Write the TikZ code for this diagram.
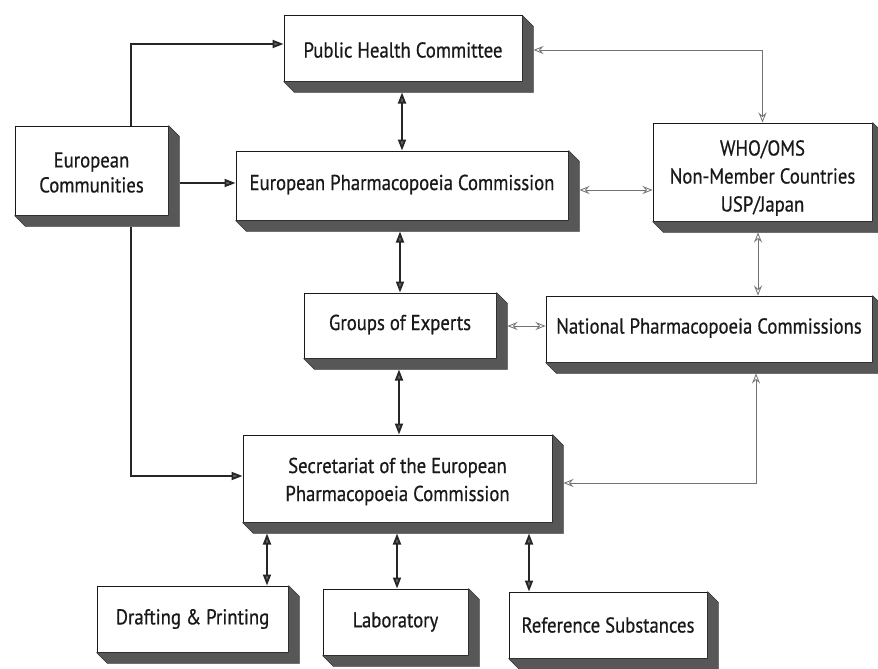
\documentclass[tikz,border=0pt]{standalone}
\usepackage{fontspec}
\setmainfont{PT Sans}[FakeStretch=0.87,FakeBold=0.6]
\usetikzlibrary{arrows.meta,calc}
\newcommand\boxshadow[1]{\fill[shadowc] (#1.north east) -- ++(11,11) -- ($(#1.south east)+(11,11)$) -- ($(#1.south west)+(11,11)$) -- (#1.south west) -- (#1.south east) -- cycle;}
\begin{document}
\begin{tikzpicture}[x=1pt,y=-1pt,
  box/.style={draw=black!90, line width=1pt, fill=white, inner sep=0pt},
  lbl/.style={align=center, font=\fontsize{21.5}{28}\selectfont, inner sep=0pt, text=black!90},
  shadowc/.style={fill=black!66, draw=black!80, line width=0.4pt, line join=round},
  strong/.style={line width=1.8pt, draw=black!85, {Triangle[length=11pt,width=8pt,fill=black!60]}-{Triangle[length=11pt,width=8pt,fill=black!60]}},
  strongone/.style={line width=1.8pt, draw=black!85, -{Triangle[length=11pt,width=8pt,fill=black!60]}},
  weak/.style={line width=0.8pt, draw=black!55, {Stealth[open,length=10pt,width=8pt,inset=3.5pt]}-{Stealth[open,length=10pt,width=8pt,inset=3.5pt]}}]
\useasboundingbox (0,0) rectangle (878,669);
\fill[white] (0,0) rectangle (878,669);
% boxes
\node[box, minimum width=238, minimum height=65] (phc) at (403,48.5) {};
\node[box, minimum width=153, minimum height=89] (ec)  at (91.5,170.5) {};
\node[box, minimum width=332, minimum height=69] (epc) at (402,185.5) {};
\node[box, minimum width=219, minimum height=98] (who) at (762.5,172) {};
\node[box, minimum width=192, minimum height=65] (goe) at (400,325.5) {};
\node[box, minimum width=326, minimum height=66] (npc) at (709,329) {};
\node[box, minimum width=309, minimum height=87] (sec) at (397.5,478.5) {};
\node[box, minimum width=191, minimum height=66] (dp)  at (192.5,619) {};
\node[box, minimum width=145, minimum height=66] (lab) at (395.5,622) {};
\node[box, minimum width=198, minimum height=66] (ref) at (608,625) {};
\foreach \n in {phc,ec,epc,who,goe,npc,sec,dp,lab,ref}{\boxshadow{\n}}
% labels
\node[lbl] (phcl) at ($(phc)+(0,1.5)$) {Public Health Committee};
\node[lbl, font=\fontsize{21.5}{25}\selectfont] (ecl) at ($(ec)+(0,2)$) {European\\Communities};
\node[lbl] (epcl) at ($(epc)+(0,-1)$) {European Pharmacopoeia Commission};
\node[lbl] (whol) at ($(who)+(0,6)$) {WHO/OMS\\Non-Member Countries\\USP/Japan};
\node[lbl] (goel) at ($(goe)+(0,-1)$) {Groups of Experts};
\node[lbl] (npcl) at ($(npc)+(0,-1)$) {National Pharmacopoeia Commissions};
\node[lbl] (secl) at ($(sec)+(0,3)$) {Secretariat of the European\\Pharmacopoeia Commission};
\node[lbl] (dpl) at (dp) {Drafting \& Printing};
\node[lbl] (labl) at (lab) {Laboratory};
\node[lbl] (refl) at (ref) {Reference Substances};
% strong connectors
\draw[strongone] ($(ec.north)+(39.5,0)$) |- ($(phc.west)+(0,-4.5)$);
\draw[strongone] ($(ec.east)+(11,12.5)$) -- ($(epc.west)+(0,-2.5)$);
\draw[strongone] ($(ec.south)+(39.5,11)$) |- ($(sec.west)+(0,-2.5)$);
\draw[strong] ($(phc.south)+(-1,11)$) -- (epc.north);
\draw[strong] ($(epc.south)+(-2,11)$) -- (goe.north);
\draw[strong] ($(goe.south)+(-1,11)$) -- ($(sec.north)+(1.5,0)$);
\draw[strong] ($(sec.south)+(-130.5,11)$) -- ($(dp.north)+(74.5,0)$);
\draw[strong] ($(sec.south)+(-0.5,11)$) -- ($(lab.north)+(1.5,0)$);
\draw[strong] ($(sec.south)+(131.5,11)$) -- ($(ref.north)+(-79,0)$);
% weak connectors
\draw[weak] ($(phc.east)+(11,1.5)$) -| (who.north);
\draw[weak] ($(epc.east)+(11,4.5)$) -- ($(who.west)+(0,18)$);
\draw[weak] ($(goe.east)+(11,0.5)$) -- ($(npc.west)+(0,-3)$);
\draw[weak] ($(who.south)+(-4.5,11)$) -- ($(npc.north)+(49,0)$);
\draw[weak] ($(npc.south)+(47,11)$) |- ($(sec.east)+(11,4.5)$);
\end{tikzpicture}
\end{document}
